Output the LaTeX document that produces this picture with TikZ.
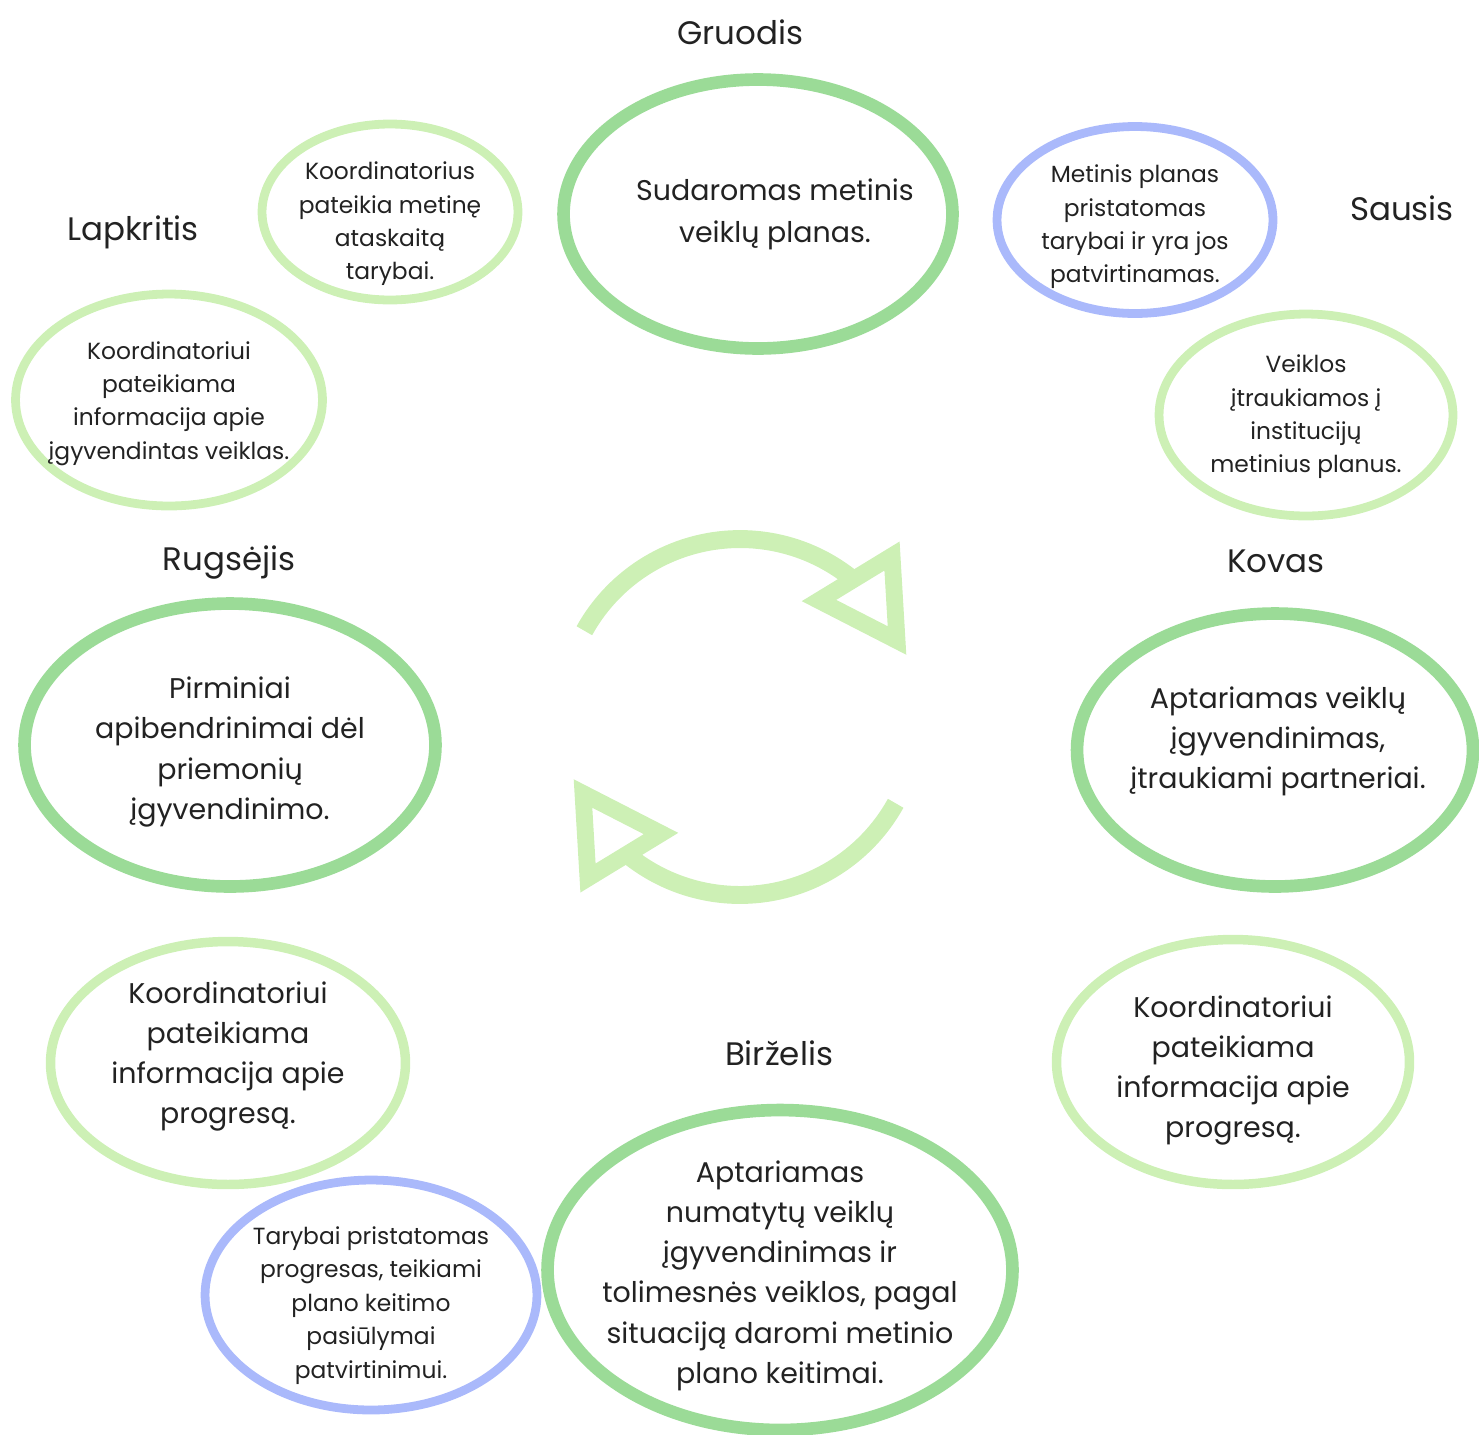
\documentclass[tikz,border=0pt]{standalone}
\usepackage{fontspec}
\setmainfont{Poppins}
\usetikzlibrary{shapes.geometric,calc}

\definecolor{planGreen}{HTML}{9BDB97}
\definecolor{softGreen}{HTML}{CDF0B5}
\definecolor{councilBlue}{HTML}{AAB9FB}
\definecolor{inkGray}{HTML}{222222}

\tikzset{
    month/.style={anchor=base, text=inkGray, font=\fontsize{18.5}{20}\selectfont},
    oval/.style={ellipse, inner sep=0pt},
    mainoval/.style={oval, draw=planGreen, line width=7.2pt},
    sideoval/.style={oval, draw=softGreen, line width=5.4pt},
    smalloval/.style={oval, draw=softGreen, line width=5pt},
    counciloval/.style={oval, draw=councilBlue, line width=5pt},
    bigtext/.style={align=center, inner sep=0pt, text=inkGray, font=\fontsize{16.2}{22.9}\selectfont},
    smalltext/.style={align=center, inner sep=0pt, text=inkGray, font=\fontsize{13.3}{19}\selectfont},
    cyclearc/.style={draw=softGreen, line width=10.2pt},
    cyclehead/.style={draw=softGreen, line width=9.6pt, line join=miter, miter limit=20},
}

\begin{document}
\begin{tikzpicture}[x=0.02cm, y=-0.02cm]
    \useasboundingbox (0,0) rectangle (1479,1434);

    % month labels
    \node[month] (dec) at (740,44) {Gruodis};
    \node[month] (jan) at (1402,220) {Sausis};
    \node[month] (nov) at (133,240) {Lapkritis};
    \node[month] (sep) at (229,570) {Rugsėjis};
    \node[month] (mar) at (1276,572) {Kovas};
    \node[month] (jun) at (779,1065) {Birželis};

    % main steps
    \node[mainoval, minimum width=7.78cm, minimum height=5.38cm,
        label={[bigtext, font=\fontsize{16.2}{23.8}\selectfont, xshift=0.34cm]center:{Sudaromas metinis\\veiklų planas.}}] (plan) at (758,214) {};
    \node[mainoval, minimum width=8.22cm, minimum height=5.66cm,
        label={[bigtext, yshift=-0.14cm]center:{Pirminiai\\apibendrinimai dėl\\priemonių\\įgyvendinimo.}}] (summary) at (230,745) {};
    \node[mainoval, minimum width=7.92cm, minimum height=5.46cm,
        label={[bigtext, xshift=0.06cm, yshift=0.17cm]center:{Aptariamas veiklų\\įgyvendinimas,\\įtraukiami partneriai.}}] (review) at (1275,750) {};
    \node[mainoval, minimum width=9.30cm, minimum height=6.40cm,
        label={[bigtext, yshift=-0.11cm]center:{Aptariamas\\numatytų veiklų\\įgyvendinimas ir\\tolimesnės veiklos, pagal\\situaciją daromi metinio\\plano keitimai.}}] (midyear) at (780,1270) {};

    % side steps
    \node[smalloval, minimum width=5.12cm, minimum height=3.52cm,
        label={[smalltext, yshift=-0.24cm]center:{Koordinatorius\\pateikia metinę\\ataskaitą\\tarybai.}}] (report) at (390,212) {};
    \node[smalloval, minimum width=6.14cm, minimum height=4.24cm,
        label={[smalltext, yshift=-0.07cm]center:{Koordinatoriui\\pateikiama\\informacija apie\\įgyvendintas veiklas.}}] (done) at (169,400) {};
    \node[smalloval, minimum width=5.88cm, minimum height=4.04cm,
        label={[smalltext, yshift=-0.04cm]center:{Veiklos\\įtraukiamos į\\institucijų\\metinius planus.}}] (include) at (1306,415) {};
    \node[sideoval, minimum width=7.10cm, minimum height=4.86cm,
        label={[bigtext, yshift=0.13cm]center:{Koordinatoriui\\pateikiama\\informacija apie\\progresą.}}] (progL) at (228,1063) {};
    \node[sideoval, minimum width=7.06cm, minimum height=4.90cm,
        label={[bigtext, yshift=-0.17cm]center:{Koordinatoriui\\pateikiama\\informacija apie\\progresą.}}] (progR) at (1233,1062) {};

    % council steps
    \node[counciloval, minimum width=5.52cm, minimum height=3.74cm,
        label={[smalltext, yshift=-0.14cm]center:{Metinis planas\\pristatomas\\tarybai ir yra jos\\patvirtinamas.}}] (approve) at (1135,220) {};
    \node[counciloval, minimum width=6.64cm, minimum height=4.60cm,
        label={[smalltext, yshift=-0.21cm]center:{Tarybai pristatomas\\progresas, teikiami\\plano keitimo\\pasiūlymai\\patvirtinimui.}}] (amend) at (371,1295) {};

    % cycle symbol
    \coordinate (hub) at (740,717);
    \draw[cyclearc] ($(hub)+(151:3.56cm)$) arc[start angle=151, end angle=52, radius=3.56cm];
    \draw[cyclehead] (892,556) -- (819,600.5) -- (897,640.5) -- cycle;
    \draw[cyclearc] ($(hub)+(-29:3.56cm)$) arc[start angle=-29, end angle=-128, radius=3.56cm];
    \draw[cyclehead] (588,878) -- (661,833.5) -- (583,793.5) -- cycle;
\end{tikzpicture}
\end{document}
